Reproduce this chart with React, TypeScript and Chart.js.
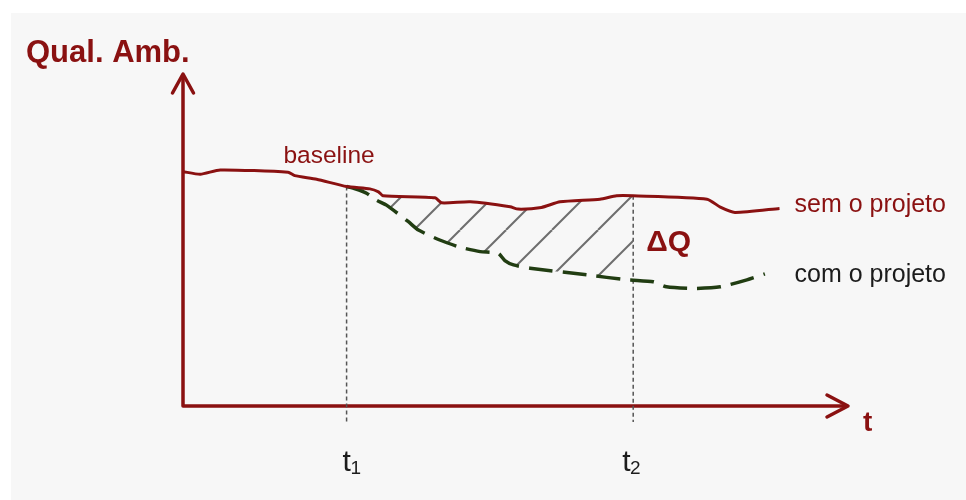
import React, { useEffect, useRef } from 'react';
import { Chart, registerables } from 'chart.js';

Chart.register(...registerables);

// "sem o projeto" (baseline) curve: time vs environmental quality
const semT = [0, 2.6, 5.6, 15.8, 16.8, 20.1, 24.6, 28.1, 29.4, 30.1, 37.9, 38.9, 43.2, 49.2, 50.4, 53.9, 56.7, 62.7, 65.2, 67.7, 78.8, 80.8, 83.0, 89.7];
const semQ = [70.6, 69.8, 71.1, 70.4, 69.4, 68.3, 66.1, 65.4, 64.5, 63.3, 62.7, 61.2, 61.5, 60.0, 59.3, 59.8, 61.5, 62.3, 63.3, 63.3, 62.3, 59.9, 58.3, 59.5];

// "com o projeto" curve
const comT = [24.6, 25.9, 27.6, 29.1, 30.6, 33.9, 35.4, 38.6, 41.7, 44.7, 47.4, 48.4, 49.7, 52.2, 60.7, 66.7, 67.7, 70.7, 72.7, 76.7, 80.8, 84.8, 87.5];
const comQ = [66.1, 65.4, 64.1, 62.0, 60.5, 55.5, 53.0, 50.0, 47.8, 46.5, 46.0, 43.8, 42.5, 41.5, 39.5, 38.0, 37.9, 37.4, 35.9, 35.4, 35.9, 38.0, 39.8];

// time markers
const markerT = [24.6, 67.7];
const markerTop = [66.1, 63.3];
const markerBottom = -4.8;
const markerLabels = ['t', 't'];
const markerSubs = ['1', '2'];

const RED = '#8a1111';
const GREEN = '#213d12';
const FONT = '"Liberation Sans", Arial, sans-serif';

function makeHatch(): CanvasPattern | string {
  const s = 46;
  const c = document.createElement('canvas');
  c.width = s;
  c.height = s;
  const g = c.getContext('2d');
  if (!g) return 'rgba(0,0,0,0)';
  g.strokeStyle = '#6e6e6e';
  g.lineWidth = 2;
  for (const off of [-s, 0, s]) {
    g.beginPath();
    g.moveTo(off, s);
    g.lineTo(off + s, 0);
    g.stroke();
  }
  return g.createPattern(c, 'repeat') || 'rgba(0,0,0,0)';
}

export default function App() {
  const ref = useRef<HTMLCanvasElement | null>(null);

  useEffect(() => {
    if (!ref.current) return;
    const hatch = makeHatch();
    const hatchIdx = comT.map((t, i) => i).filter((i) => comT[i] <= markerT[1]);

    const annot = {
      id: 'annot',
      beforeDatasetsDraw(chart: any) {
        const { ctx, chartArea } = chart;
        const { left, right, top, bottom } = chartArea;
        ctx.save();
        ctx.strokeStyle = RED;
        ctx.lineWidth = 3.5;
        ctx.lineJoin = 'round';
        ctx.lineCap = 'butt';
        ctx.beginPath();
        ctx.moveTo(left, top + 1);
        ctx.lineTo(left, bottom);
        ctx.lineTo(right - 1, bottom);
        ctx.stroke();
        ctx.lineCap = 'round';
        ctx.beginPath();
        ctx.moveTo(left - 10.5, top + 19);
        ctx.lineTo(left, top);
        ctx.lineTo(left + 10.5, top + 19);
        ctx.stroke();
        ctx.beginPath();
        ctx.moveTo(right - 21, bottom - 11);
        ctx.lineTo(right, bottom);
        ctx.lineTo(right - 21, bottom + 11);
        ctx.stroke();
        ctx.restore();
      },
      afterDraw(chart: any) {
        const { ctx, chartArea } = chart;
        const xs = chart.scales.x;
        const { right, bottom } = chartArea;
        ctx.save();
        ctx.textBaseline = 'alphabetic';
        ctx.textAlign = 'left';

        ctx.fillStyle = RED;
        ctx.font = `bold 31px ${FONT}`;
        ctx.fillText('Qual. Amb.', 26, 62);

        ctx.font = `bold 28px ${FONT}`;
        ctx.fillText('t', right + 15, bottom + 25);

        ctx.font = `24.5px ${FONT}`;
        ctx.fillText('baseline', xs.getPixelForValue(15.1), 163);

        ctx.font = `25px ${FONT}`;
        const lastX = xs.getPixelForValue(semT[semT.length - 1]);
        ctx.fillText('sem o projeto', lastX + 15, 212);

        ctx.font = `bold 30px ${FONT}`;
        ctx.fillText('ΔQ', xs.getPixelForValue(markerT[1]) + 13, 251);

        ctx.fillStyle = '#1c1c1c';
        ctx.font = `25px ${FONT}`;
        ctx.fillText('com o projeto', lastX + 15, 282);

        const offs = [-4, -11];
        markerT.forEach((t, i) => {
          const px = xs.getPixelForValue(t) + offs[i];
          ctx.font = `30px ${FONT}`;
          ctx.fillText(markerLabels[i], px, 471);
          const w = ctx.measureText(markerLabels[i]).width;
          ctx.font = `19px ${FONT}`;
          ctx.fillText(markerSubs[i], px + w - 0.5, 474);
        });
        ctx.restore();
      },
    };

    const chart = new Chart(ref.current, {
      type: 'line',
      data: {
        datasets: [
          {
            label: 'sem o projeto',
            data: semT.map((t, i) => ({ x: t, y: semQ[i] })),
            borderColor: RED,
            borderWidth: 3,
            pointRadius: 0,
            tension: 0.2,
            fill: false,
          },
          {
            label: 'com o projeto',
            data: comT.map((t, i) => ({ x: t, y: comQ[i] })),
            borderColor: GREEN,
            borderWidth: 3.5,
            borderDash: [24, 10],
            pointRadius: 0,
            tension: 0.2,
            fill: false,
          },
          {
            label: 'ΔQ',
            data: hatchIdx.map((i) => ({ x: comT[i], y: comQ[i] })),
            borderWidth: 0,
            borderColor: 'rgba(0,0,0,0)',
            backgroundColor: hatch as any,
            pointRadius: 0,
            tension: 0.2,
            fill: 0,
          },
          ...markerT.map((t, i) => ({
            label: 'marker' + i,
            data: [
              { x: t, y: markerTop[i] },
              { x: t, y: markerBottom },
            ],
            borderColor: '#555555',
            borderWidth: 1.5,
            borderDash: [4, 3],
            pointRadius: 0,
            fill: false,
            clip: false as any,
          })),
        ] as any,
      },
      options: {
        animation: false,
        responsive: false,
        devicePixelRatio: 1,
        layout: { padding: { left: 183, top: 74, right: 118, bottom: 94 } },
        scales: {
          x: { type: 'linear', min: 0, max: 100, display: false },
          y: { type: 'linear', min: 0, max: 100, display: false },
        },
        plugins: {
          legend: { display: false },
          tooltip: { enabled: false },
        },
        events: [],
      },
      plugins: [annot],
    });
    return () => chart.destroy();
  }, []);

  return (
    <div style={{ position: 'absolute', left: 0, top: 0, width: 966, height: 500, background: '#ffffff', overflow: 'hidden' }}>
      <div style={{ position: 'absolute', left: 11, top: 13, right: 0, bottom: 0, background: '#f7f7f7' }} />
      <canvas ref={ref} width={966} height={500} style={{ position: 'absolute', left: 0, top: 0, width: 966, height: 500 }} />
    </div>
  );
}
